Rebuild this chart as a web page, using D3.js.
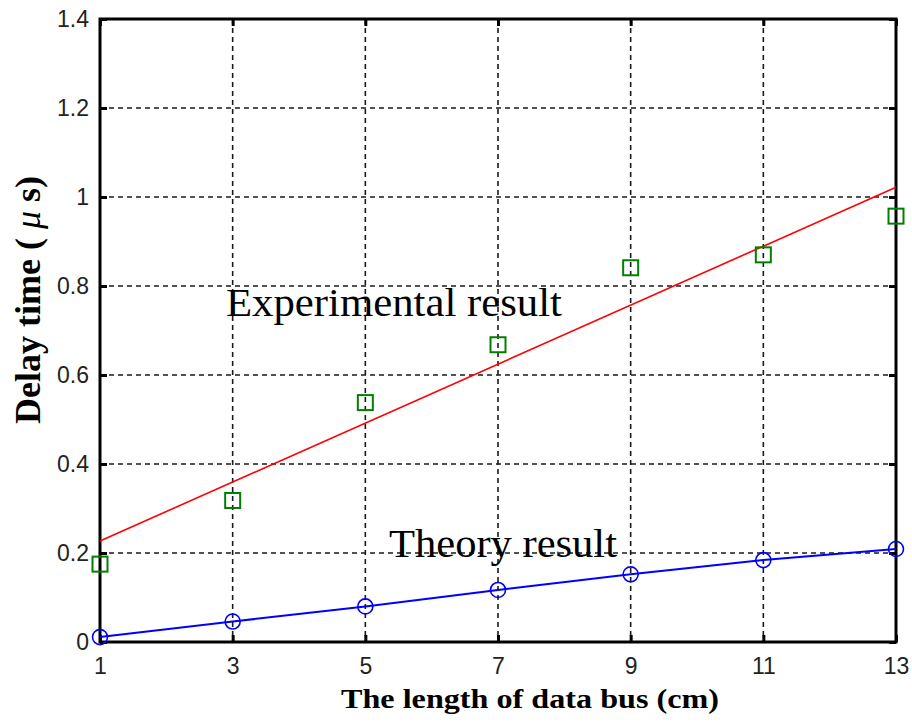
<!DOCTYPE html>
<html>
<head>
<meta charset="utf-8">
<script src="https://cdn.jsdelivr.net/npm/d3@7"></script>
<style>
  html, body { margin: 0; padding: 0; background: #fff; }
  svg { display: block; }
</style>
</head>
<body>
<svg id="chart" width="912" height="725"></svg>
<script>
// Bus length (cm) at which delay was measured / computed
const lengths = [1, 3, 5, 7, 9, 11, 13];
// Measured delay (µs)
const experimental = [0.175, 0.318, 0.538, 0.668, 0.841, 0.870, 0.957];
// Computed delay (µs)
const theory = [0.011, 0.046, 0.080, 0.117, 0.152, 0.184, 0.209];
// Straight-line fit through the measured points (end points)
const fitLengths = [1, 13];
const fitDelay = [0.227, 1.022];
// Axis ticks
const xTicks = [1, 3, 5, 7, 9, 11, 13];
const yTicks = [0, 0.2, 0.4, 0.6, 0.8, 1, 1.2, 1.4];
const yTickLabels = ["0", "0.2", "0.4", "0.6", "0.8", "1", "1.2", "1.4"];

const svg = d3.select("#chart");
const plotL = 100, plotR = 896, plotT = 19, plotB = 642;

const x = d3.scaleLinear().domain([1, 13]).range([plotL, plotR]);
const y = d3.scaleLinear().domain([0, 1.4]).range([plotB, plotT]);

// dashed grid
const grid = svg.append("g")
  .attr("stroke", "#1a1a1a").attr("stroke-width", 1.6).attr("stroke-dasharray", "5,4");
grid.selectAll("line.v").data(xTicks.slice(1, -1)).join("line").attr("class", "v")
  .attr("x1", d => x(d)).attr("x2", d => x(d)).attr("y1", plotT).attr("y2", plotB);
grid.selectAll("line.h").data(yTicks.slice(1, -1)).join("line").attr("class", "h")
  .attr("y1", d => y(d)).attr("y2", d => y(d)).attr("x1", plotL).attr("x2", plotR);

// axes with inward ticks
const tickStyle = g => {
  g.select(".domain").remove();
  g.selectAll(".tick line").attr("stroke", "#000").attr("stroke-width", 3);
  g.selectAll(".tick text").attr("fill", "#222")
    .style("font-family", "'Liberation Sans', Arial, sans-serif").style("font-size", "23px");
};
svg.append("g").attr("transform", `translate(0,${plotB})`)
  .call(d3.axisBottom(x).tickValues(xTicks).tickFormat(d3.format("d")).tickSizeInner(-7).tickSizeOuter(0).tickPadding(16))
  .call(tickStyle);
svg.append("g").attr("transform", `translate(0,${plotT})`)
  .call(d3.axisTop(x).tickValues(xTicks).tickFormat("").tickSizeInner(-7).tickSizeOuter(0))
  .call(tickStyle);
svg.append("g").attr("transform", `translate(${plotL},0)`)
  .call(d3.axisLeft(y).tickValues(yTicks).tickFormat((d, i) => yTickLabels[i]).tickSizeInner(-7).tickSizeOuter(0).tickPadding(11))
  .call(tickStyle);
svg.append("g").attr("transform", `translate(${plotR},0)`)
  .call(d3.axisRight(y).tickValues(yTicks).tickFormat("").tickSizeInner(-7).tickSizeOuter(0))
  .call(tickStyle);

// frame
svg.append("rect").attr("x", plotL).attr("y", plotT)
  .attr("width", plotR - plotL).attr("height", plotB - plotT)
  .attr("fill", "none").attr("stroke", "#000").attr("stroke-width", 3);

// fit line for measured data
svg.append("path")
  .datum(fitLengths.map((d, i) => [d, fitDelay[i]]))
  .attr("d", d3.line().x(d => x(d[0])).y(d => y(d[1])))
  .attr("fill", "none").attr("stroke", "#ff0000").attr("stroke-width", 1.6);

// theory line
svg.append("path")
  .datum(lengths.map((d, i) => [d, theory[i]]))
  .attr("d", d3.line().x(d => x(d[0])).y(d => y(d[1])))
  .attr("fill", "none").attr("stroke", "#0000ff").attr("stroke-width", 2);

// theory circles
svg.append("g").selectAll("circle").data(lengths).join("circle")
  .attr("cx", d => x(d)).attr("cy", (d, i) => y(theory[i])).attr("r", 7.5)
  .attr("fill", "none").attr("stroke", "#0000ff").attr("stroke-width", 1.6);

// measured squares
const sq = 15;
svg.append("g").selectAll("rect").data(lengths).join("rect")
  .attr("x", d => x(d) - sq / 2).attr("y", (d, i) => y(experimental[i]) - sq / 2)
  .attr("width", sq).attr("height", sq)
  .attr("fill", "none").attr("stroke", "#008000").attr("stroke-width", 2);

// annotations
const serif = "'Liberation Serif', 'Times New Roman', serif";
svg.append("text").attr("x", 226).attr("y", 316)
  .style("font-family", serif).style("font-size", "41px").attr("fill", "#000")
  .attr("textLength", 336).attr("lengthAdjust", "spacingAndGlyphs")
  .text("Experimental result");
svg.append("text").attr("x", 389).attr("y", 557)
  .style("font-family", serif).style("font-size", "41px").attr("fill", "#000")
  .attr("textLength", 228).attr("lengthAdjust", "spacingAndGlyphs")
  .text("Theory result");

// axis titles
svg.append("text").attr("x", 530).attr("y", 708).attr("text-anchor", "middle")
  .style("font-family", serif).style("font-size", "28px").style("font-weight", "bold")
  .attr("textLength", 378).attr("lengthAdjust", "spacingAndGlyphs")
  .text("The length of data bus (cm)");

const yl = svg.append("text").attr("transform", "translate(40,300) rotate(-90)")
  .attr("text-anchor", "middle")
  .style("font-family", serif).style("font-size", "36px").style("font-weight", "bold");
yl.append("tspan").text("Delay time ( ");
yl.append("tspan").style("font-style", "italic").style("font-weight", "normal").text("μ");
yl.append("tspan").text(" s)");
</script>
</body>
</html>
